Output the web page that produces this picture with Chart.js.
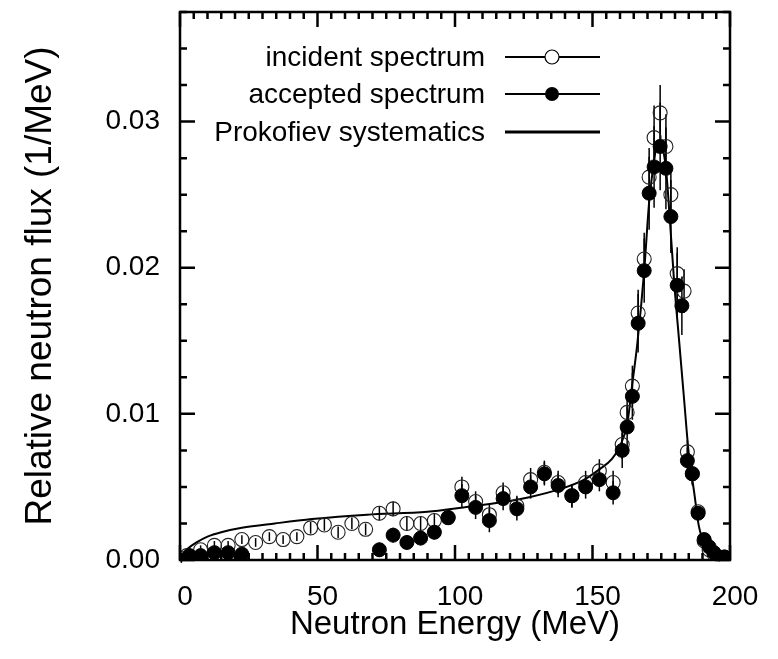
<!DOCTYPE html>
<html lang="en">
<head>
<meta charset="UTF-8">
<title>Neutron spectrum</title>
<script src="https://cdn.jsdelivr.net/npm/chart.js"></script>
<style>
  html, body { margin: 0; padding: 0; background: #fff; }
  #wrap { width: 778px; height: 659px; }
</style>
</head>
<body>
<div id="wrap"><canvas id="chart" width="778" height="659"></canvas></div>

<script>
    // incident spectrum (open circles)
    var incE = [0.5, 2.5, 7.5, 12.5, 17.5, 22.5, 27.5, 32.5, 37.5, 42.5, 47.5, 52.5, 57.5, 62.5, 67.5,
        72.5, 77.5, 82.5, 87.5, 92.5, 97.5, 102.5, 107.5, 112.5, 117.5, 122.5, 127.5, 132.5, 137.5,
        142.5, 147.5, 152.5, 157.5, 160.8, 162.6, 164.5, 166.6, 168.8, 170.6, 172.4, 174.6, 176.7,
        178.5, 180.8, 183.3, 184.5, 186.3, 188.4, 190.6, 192.4, 194.2, 196, 198];
    var incF = [0.0001, 0.0003, 0.0007, 0.0010, 0.0010, 0.0014, 0.0012, 0.0016, 0.0014, 0.0016, 0.0022,
        0.0024, 0.0019, 0.0025, 0.0021, 0.0032, 0.0035, 0.0025, 0.0025, 0.0027, 0.0029, 0.0050, 0.0040,
        0.0031, 0.0046, 0.0037, 0.0055, 0.0060, 0.0053, 0.0044, 0.0053, 0.0061, 0.0053, 0.0079, 0.0101,
        0.0119, 0.0169, 0.0206, 0.0262, 0.0289, 0.0306, 0.0283, 0.0250, 0.0196, 0.0184, 0.0074, 0.0059,
        0.0033, 0.0013, 0.0007, 0.0004, 0.0001, 0.0002];
    var incErr = [0.0002, 0.0002, 0.0003, 0.0003, 0.0003, 0.0003, 0.0003, 0.0003, 0.0003, 0.0003, 0.0004,
        0.0004, 0.0004, 0.0004, 0.0004, 0.0005, 0.0005, 0.0005, 0.0005, 0.0005, 0.0005, 0.0007, 0.0007,
        0.0007, 0.0007, 0.0007, 0.0008, 0.0008, 0.0008, 0.0008, 0.0008, 0.0008, 0.0008, 0.0010, 0.0012,
        0.0014, 0.0016, 0.0018, 0.0020, 0.0022, 0.0019, 0.0022, 0.0020, 0.0018, 0.0015, 0.0008, 0.0007,
        0.0004, 0.0003, 0.0002, 0.0002, 0.0002, 0.0002];

    // accepted spectrum (filled circles)
    var accE = [0.5, 3.5, 7.5, 12.5, 17.5, 22.5,
        72.5, 77.5, 82.5, 87.5, 92.5, 97.5, 102.5, 107.5, 112.5, 117.5, 122.5, 127.5, 132.5, 137.5,
        142.5, 147.5, 152.5, 157.5,
        160.8, 162.6, 164.5, 166.6, 168.8, 170.6, 172.4, 174.6, 176.7, 178.5, 180.8, 182.5,
        184.5, 186.3, 188.4, 190.6, 192.4, 194.2, 196, 198];
    var accF = [0.0000, 0.0003, 0.0003, 0.0005, 0.0005, 0.0004,
        0.0007, 0.0017, 0.0012, 0.0015, 0.0019, 0.0029, 0.0044, 0.0036, 0.0027, 0.0042, 0.0035, 0.0050,
        0.0059, 0.0051, 0.0044, 0.0050, 0.0055, 0.0046,
        0.0075, 0.0091, 0.0112, 0.0162, 0.0198, 0.0251, 0.0269, 0.0283, 0.0268, 0.0235, 0.0188, 0.0174,
        0.0068, 0.0059, 0.0032, 0.0014, 0.0009, 0.0005, 0.0002, 0.0002];
    var accErr = [0.0002, 0.0002, 0.0002, 0.0002, 0.0002, 0.0002,
        0.0005, 0.0005, 0.0005, 0.0005, 0.0005, 0.0005, 0.0008, 0.0008, 0.0008, 0.0008, 0.0008, 0.0008,
        0.0008, 0.0008, 0.0008, 0.0008, 0.0008, 0.0008,
        0.0012, 0.0014, 0.0016, 0.0020, 0.0022, 0.0025, 0.0028, 0.0030, 0.0028, 0.0025, 0.0022, 0.0020,
        0.0009, 0.0008, 0.0005, 0.0003, 0.0002, 0.0002, 0.0002, 0.0002];

    // Prokofiev systematics (solid curve)
    var protoE = [0, 1, 3, 6, 10, 15, 22.5, 34.5, 48, 68, 90, 103, 115, 127, 139, 147, 152.5, 157,
        160, 162.7, 164.5, 166.3, 168.8, 170.6, 172.4, 173.8, 175.2, 176.7, 178.6, 179.7, 181.5, 183.3,
        185, 187, 188.7, 191.3, 196, 200];
    var protoF = [0, 0.0004, 0.0008, 0.0012, 0.0016, 0.0019, 0.0022, 0.0025, 0.0028, 0.0031, 0.0033,
        0.0036, 0.0039, 0.0043, 0.0049, 0.0055, 0.0062, 0.0069, 0.0078, 0.0094, 0.0121, 0.0148, 0.0198,
        0.0245, 0.0273, 0.0287, 0.0284, 0.0268, 0.0220, 0.0190, 0.0150, 0.0110, 0.0073, 0.0046, 0.0023,
        0.0009, 0.0002, 0];

    var xTicks = [0, 50, 100, 150, 200];
    var yTicks = [0, 0.01, 0.02, 0.03];

    var FONT = '"Liberation Sans", Arial, Helvetica, sans-serif';

    function pts(xs, ys) {
        return xs.map(function (x, i) { return { x: x, y: ys[i] }; });
    }

    // vertical error bars, drawn under the markers
    var errorBars = {
        id: 'errorBars',
        beforeDatasetsDraw: function (chart) {
            var ctx = chart.ctx, xs = chart.scales.x, ys = chart.scales.y;
            ctx.save();
            ctx.strokeStyle = '#000';
            ctx.lineWidth = 1.5;
            chart.data.datasets.forEach(function (ds) {
                if (!ds.errors) return;
                ds.data.forEach(function (p, i) {
                    var px = xs.getPixelForValue(p.x);
                    ctx.beginPath();
                    ctx.moveTo(px, ys.getPixelForValue(p.y - ds.errors[i]));
                    ctx.lineTo(px, ys.getPixelForValue(p.y + ds.errors[i]));
                    ctx.stroke();
                });
            });
            ctx.restore();
        }
    };

    // frame with inward ticks on all four sides, plus the legend
    var frame = {
        id: 'frame',
        afterDraw: function (chart) {
            var ctx = chart.ctx, a = chart.chartArea;
            var xs = chart.scales.x, ys = chart.scales.y;
            ctx.save();
            ctx.strokeStyle = '#000';
            ctx.lineWidth = 2.5;
            ctx.strokeRect(a.left, a.top, a.right - a.left, a.bottom - a.top);

            ctx.beginPath();
            for (var e = 0; e <= 200; e += 5) {
                var px = xs.getPixelForValue(e);
                var len = (e % 50 === 0) ? 15 : 7;
                ctx.moveTo(px, a.bottom); ctx.lineTo(px, a.bottom - len);
                ctx.moveTo(px, a.top); ctx.lineTo(px, a.top + len);
            }
            for (var k = 0; k <= 15; k++) {
                var py = ys.getPixelForValue(k * 0.0025);
                var l = (k % 4 === 0) ? 15 : 7;
                ctx.moveTo(a.left, py); ctx.lineTo(a.left + l, py);
                ctx.moveTo(a.right, py); ctx.lineTo(a.right - l, py);
            }
            ctx.stroke();

            // legend
            var rows = [
                { label: 'incident spectrum', y: 57, mark: 'open' },
                { label: 'accepted spectrum', y: 94, mark: 'filled' },
                { label: 'Prokofiev systematics', y: 132, mark: 'none' }
            ];
            ctx.font = '28px ' + FONT;
            ctx.textAlign = 'right';
            ctx.textBaseline = 'middle';
            ctx.fillStyle = '#000';
            rows.forEach(function (r) {
                ctx.fillText(r.label, 485, r.y + 1);
                ctx.beginPath();
                ctx.lineWidth = r.mark === 'none' ? 3 : 2;
                ctx.moveTo(505, r.y); ctx.lineTo(600, r.y);
                ctx.stroke();
                if (r.mark !== 'none') {
                    ctx.beginPath();
                    ctx.arc(552, r.y, 7, 0, Math.PI * 2);
                    if (r.mark === 'filled') {
                        ctx.fill();
                    } else {
                        ctx.fillStyle = '#fff'; ctx.fill(); ctx.fillStyle = '#000';
                        ctx.lineWidth = 1.2; ctx.stroke();
                    }
                }
            });
            ctx.restore();
        }
    };

    var ctx = document.getElementById('chart').getContext('2d');
    var chart = new Chart(ctx, {
        type: 'scatter',
        data: {
            datasets: [{
                label: 'Prokofiev systematics',
                data: pts(protoE, protoF),
                showLine: true,
                borderColor: '#000',
                borderWidth: 2,
                pointRadius: 0,
                cubicInterpolationMode: 'monotone',
                order: 2
            }, {
                label: 'incident spectrum',
                data: pts(incE, incF),
                errors: incErr,
                pointRadius: 7,
                pointBorderWidth: 1.1,
                borderColor: '#222',
                backgroundColor: 'rgba(0,0,0,0)',
                order: 1
            }, {
                label: 'accepted spectrum',
                data: pts(accE, accF),
                errors: accErr,
                pointRadius: 7,
                pointBorderWidth: 1,
                borderColor: '#000',
                backgroundColor: '#000',
                order: 0
            }]
        },
        options: {
            responsive: false,
            animation: false,
            layout: { padding: { top: 12, right: 48, left: 0, bottom: 0 } },
            plugins: { legend: { display: false }, tooltip: { enabled: false } },
            scales: {
                x: {
                    type: 'linear',
                    min: 0, max: 200,
                    afterBuildTicks: function (s) { s.ticks = xTicks.map(function (v) { return { value: v }; }); },
                    afterFit: function (s) { s.height = 99; s.paddingLeft = 0; s.paddingRight = 0; },
                    grid: { display: false, drawTicks: false },
                    border: { display: false },
                    ticks: { color: '#000', font: { family: FONT, size: 28 }, padding: 20, labelOffset: 5, maxRotation: 0 },
                    title: { display: true, text: 'Neutron Energy (MeV)', color: '#000',
                        font: { family: FONT, size: 33 }, padding: { top: 0, bottom: 14 } }
                },
                y: {
                    type: 'linear',
                    min: 0, max: 0.0375,
                    afterBuildTicks: function (s) { s.ticks = yTicks.map(function (v) { return { value: v }; }); },
                    afterFit: function (s) { s.width = 180; s.paddingTop = 0; s.paddingBottom = 0; },
                    grid: { display: false, drawTicks: false },
                    border: { display: false },
                    ticks: { color: '#000', font: { family: FONT, size: 28 }, padding: 20,
                        callback: function (v) { return v.toFixed(2); } },
                    title: { display: true, text: 'Relative neutron flux (1/MeV)', color: '#000',
                        font: { family: FONT, size: 37 }, padding: { top: 19, bottom: 0 } }
                }
            }
        },
        plugins: [errorBars, frame]
    });
</script>
</body>
</html>
